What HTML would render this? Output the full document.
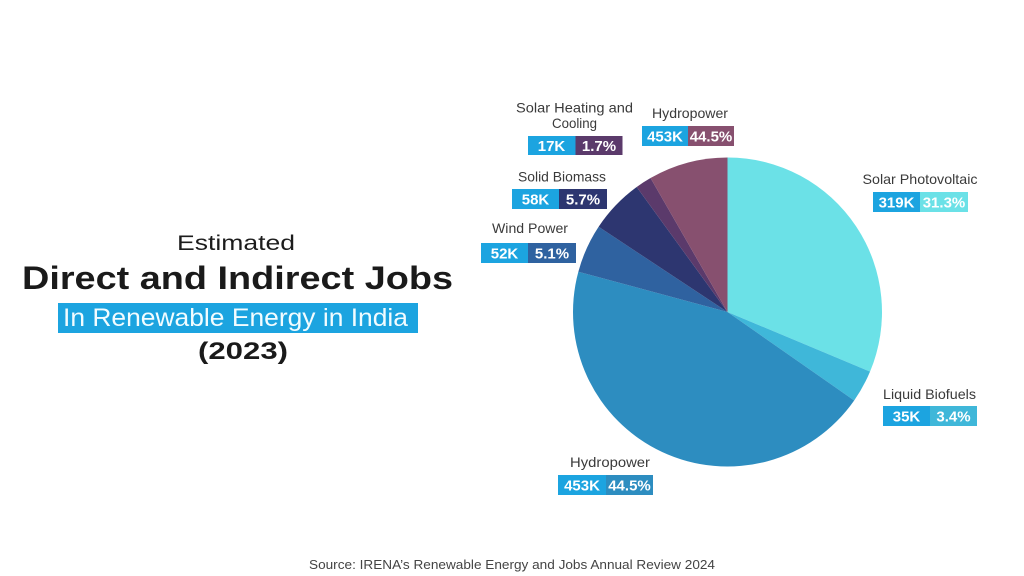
<!DOCTYPE html>
<html>
<head>
<meta charset="utf-8">
<style>
html,body{margin:0;padding:0;background:#fff;}
svg{display:block;}
text{font-family:"Liberation Sans",sans-serif;}
</style>
</head>
<body>
<svg width="1024" height="576" viewBox="0 0 1024 576" xmlns="http://www.w3.org/2000/svg">
<rect width="1024" height="576" fill="#ffffff"/>

<!-- Title block -->
<text x="236" y="250" font-size="21" fill="#1c1c1c" text-anchor="middle" textLength="118" lengthAdjust="spacingAndGlyphs">Estimated</text>
<text x="237.5" y="289" font-size="32" font-weight="bold" fill="#1a1a1a" text-anchor="middle" textLength="431" lengthAdjust="spacingAndGlyphs">Direct and Indirect Jobs</text>
<rect x="58" y="303" width="360" height="30" fill="#1ca4e0"/>
<text x="235.5" y="326" font-size="25" fill="#f2fcff" text-anchor="middle" textLength="345" lengthAdjust="spacingAndGlyphs">In Renewable Energy in India</text>
<text x="243" y="359" font-size="24" font-weight="bold" fill="#1a1a1a" text-anchor="middle" textLength="90" lengthAdjust="spacingAndGlyphs">(2023)</text>

<!-- Pie -->
<g>
<path d="M727.5,312 L727.5,157.5 A154.5,154.5 0 0 1 870.03,371.62 Z" fill="#6be1e7"/>
<path d="M727.5,312 L870.03,371.62 A154.5,154.5 0 0 1 854.17,400.45 Z" fill="#3fb7d9"/>
<path d="M727.5,312 L854.17,400.45 A154.5,154.5 0 0 1 578.35,271.69 Z" fill="#2d8dc0"/>
<path d="M727.5,312 L578.35,271.69 A154.5,154.5 0 0 1 598.63,226.76 Z" fill="#2f62a0"/>
<path d="M727.5,312 L598.63,226.76 A154.5,154.5 0 0 1 636.69,187.01 Z" fill="#2d3670"/>
<path d="M727.5,312 L636.69,187.01 A154.5,154.5 0 0 1 650.53,178.05 Z" fill="#5b3a6b"/>
<path d="M727.5,312 L650.53,178.05 A154.5,154.5 0 0 1 727.5,157.5 Z" fill="#87506f"/>
</g>

<!-- Labels -->
<g font-size="14" fill="#3a3a3a">
<text x="574.5" y="112.5" text-anchor="middle" textLength="117" lengthAdjust="spacingAndGlyphs">Solar Heating and</text>
<text x="574.5" y="128" text-anchor="middle" textLength="45" lengthAdjust="spacingAndGlyphs">Cooling</text>
<text x="690" y="118" text-anchor="middle" textLength="76" lengthAdjust="spacingAndGlyphs">Hydropower</text>
<text x="562" y="181.5" text-anchor="middle" textLength="88" lengthAdjust="spacingAndGlyphs">Solid Biomass</text>
<text x="530" y="233" text-anchor="middle" textLength="76" lengthAdjust="spacingAndGlyphs">Wind Power</text>
<text x="920" y="184" text-anchor="middle" textLength="115" lengthAdjust="spacingAndGlyphs">Solar Photovoltaic</text>
<text x="929.5" y="399" text-anchor="middle" textLength="93" lengthAdjust="spacingAndGlyphs">Liquid Biofuels</text>
<text x="610" y="467" text-anchor="middle" textLength="80" lengthAdjust="spacingAndGlyphs">Hydropower</text>
</g>

<!-- Value boxes -->
<g font-size="15" font-weight="bold" fill="#ffffff" text-anchor="middle">
<!-- Solar heating -->
<rect x="528" y="136" width="47.5" height="19" fill="#1ca4e0"/>
<rect x="575.5" y="136" width="47" height="19" fill="#5b3a6b"/>
<text x="551.5" y="151">17K</text>
<text x="599" y="151">1.7%</text>
<!-- Hydro top -->
<rect x="642" y="126" width="46" height="20" fill="#1ca4e0"/>
<rect x="688" y="126" width="46" height="20" fill="#87506f"/>
<text x="665" y="141.5">453K</text>
<text x="711" y="141.5">44.5%</text>
<!-- Solid biomass -->
<rect x="512" y="189" width="47" height="20" fill="#1ca4e0"/>
<rect x="559" y="189" width="48" height="20" fill="#2d3670"/>
<text x="535.5" y="204.5">58K</text>
<text x="583" y="204.5">5.7%</text>
<!-- Wind -->
<rect x="481" y="243" width="47" height="20" fill="#1ca4e0"/>
<rect x="528" y="243" width="48" height="20" fill="#2f62a0"/>
<text x="504.5" y="258.5">52K</text>
<text x="552" y="258.5">5.1%</text>
<!-- Solar PV -->
<rect x="873" y="192" width="47" height="20" fill="#1ca4e0"/>
<rect x="920" y="192" width="48" height="20" fill="#6be1e7"/>
<text x="896.5" y="207.5">319K</text>
<text x="944" y="207.5">31.3%</text>
<!-- Liquid biofuels -->
<rect x="883" y="406" width="47" height="20" fill="#1ca4e0"/>
<rect x="930" y="406" width="47" height="20" fill="#3fb7d9"/>
<text x="906.5" y="421.5">35K</text>
<text x="953.5" y="421.5">3.4%</text>
<!-- Hydro bottom -->
<rect x="558" y="475" width="48" height="20" fill="#1ca4e0"/>
<rect x="606" y="475" width="47" height="20" fill="#2d8dc0"/>
<text x="582" y="490.5">453K</text>
<text x="629.5" y="490.5">44.5%</text>
</g>

<!-- Source -->
<text x="512" y="569" font-size="13" fill="#444444" text-anchor="middle" textLength="406" lengthAdjust="spacingAndGlyphs">Source: IRENA’s Renewable Energy and Jobs Annual Review 2024</text>
</svg>
</body>
</html>
